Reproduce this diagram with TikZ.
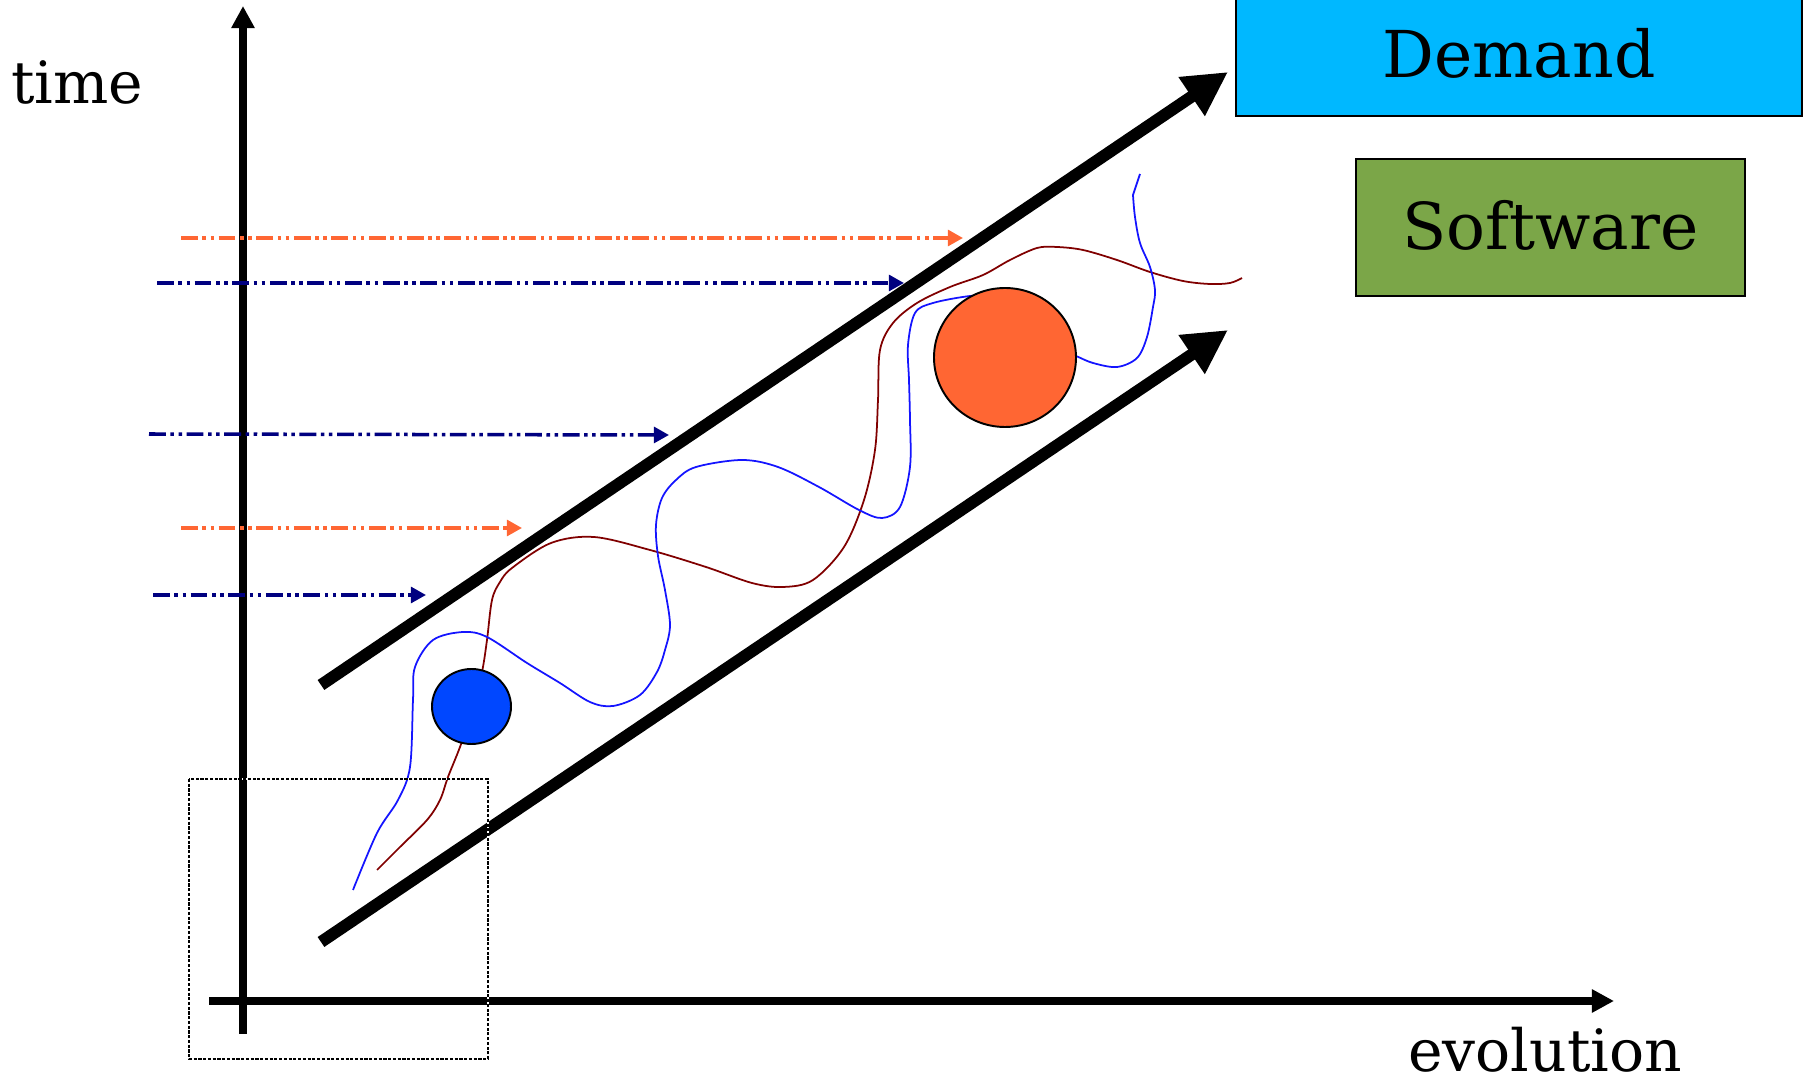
\documentclass[tikz,border=0pt]{standalone}
\usepackage{fontspec}
\setmainfont{DejaVu Serif}
\usetikzlibrary{arrows.meta,shapes.geometric}
\definecolor{cyanbox}{RGB}{0,184,255}
\definecolor{greenbox}{RGB}{123,166,72}
\definecolor{orng}{RGB}{255,102,51}
\definecolor{navyc}{RGB}{0,0,128}
\definecolor{ballblue}{RGB}{0,71,255}
\definecolor{curveblue}{RGB}{20,20,255}
\definecolor{curvered}{RGB}{128,0,0}
\begin{document}
\begin{tikzpicture}[x=0.1mm,y=-0.1mm,
  axisline/.style={line width=2.1pt,-{Triangle[length=6.3pt,width=6.3pt]}},
  diagline/.style={line width=3.4pt,-{Triangle[length=12.5pt,width=12.5pt]}},
  ddarrow/.style={line width=1pt,dash pattern=on 4.8pt off 1.3pt on 1pt off 1.3pt on 1pt off 1.3pt,
     -{Triangle[length=4.3pt,width=4.5pt]}},
  axislabel/.style={anchor=base,inner sep=0pt,font=\fontsize{16.6}{19}\selectfont},
  legendbox/.style={draw=black,line width=0.45pt,inner sep=0pt,text depth=0pt,font=\fontsize{18.4}{22}\selectfont},
  wiggle/.style={line width=0.5pt},
  ball/.style={circle,draw=black,line width=0.55pt,inner sep=0pt},
  dotbox/.style={line width=0.6pt,dash pattern=on 0.9pt off 0.45pt}
]
\useasboundingbox (0,0) rectangle (1810,1079);

% coordinates
\coordinate (yb) at (243,1034);
\coordinate (yt) at (243,6);
\coordinate (xl) at (209,1001);
\coordinate (xr) at (1614,1001);
\coordinate (d1s) at (321,685);
\coordinate (d1e) at (1228,72);
\coordinate (d2s) at (321,942);
\coordinate (d2e) at (1228,330);
\coordinate (a1s) at (181,238);  \coordinate (a1e) at (963,238);
\coordinate (a2s) at (157,283);  \coordinate (a2e) at (904,283);
\coordinate (a3s) at (149,434);  \coordinate (a3e) at (669,435);
\coordinate (a4s) at (181,528);  \coordinate (a4e) at (522,528);
\coordinate (a5s) at (153,595);  \coordinate (a5e) at (426,595);
\coordinate (r1) at (189,779);
\coordinate (r2) at (488,1059);

% axes
\draw[axisline] (yb) -- (yt);
\draw[axisline] (xl) -- (xr);

% dash-dot-dot arrows
\draw[ddarrow,orng] (a1s) -- (a1e);
\draw[ddarrow,navyc] (a2s) -- (a2e);
\draw[ddarrow,navyc] (a3s) -- (a3e);
\draw[ddarrow,orng] (a4s) -- (a4e);
\draw[ddarrow,navyc] (a5s) -- (a5e);

% diagonal arrows
\draw[diagline] (d1s) -- (d1e);
\draw[diagline] (d2s) -- (d2e);

% wiggly curves
\draw[wiggle,curvered] plot[smooth,tension=0.55] coordinates {
 (377,870) (400,847) (427,820) (440,800) (448,777) (460,747) (472,712) (482,672)
 (487,640) (492,600) (500,582) (512,568) (551,543) (594,537) (650,550) (706,567)
 (752,583) (783,587) (813,580) (844,547) (864,500) (875,450) (878,400) (880,350)
 (893,323) (917,303) (950,287) (983,275) (1010,260) (1037,248) (1057,247) (1083,250)
 (1117,260) (1150,272) (1183,281) (1210,284) (1230,283) (1242,278)};
\draw[wiggle,curveblue] plot[smooth,tension=0.55] coordinates {
 (353,890) (377,833) (398,800) (410,767) (413,700) (415,667) (433,640) (463,632)
 (487,637) (527,663) (560,683) (590,702) (613,706) (640,695) (657,672) (665,650)
 (670,625) (665,590) (658,556) (656,525) (662,498) (676,480) (696,467) (742,460)
 (778,467) (819,487) (859,510) (882,518) (900,507) (910,467) (910,420) (909,380)
 (908,345) (915,313) (933,303) (970,296) (995,296)};
\draw[wiggle,curveblue] plot[smooth,tension=0.55] coordinates {
 (1060,350) (1076,356) (1093,363) (1117,367) (1137,358) (1147,337) (1153,307)
 (1155,290) (1150,267) (1140,243) (1135,217) (1133,195)} -- (1140,174);

% balls
\node[ball,fill=ballblue,ellipse,minimum width=7.9mm,minimum height=7.5mm] (blueball) at (471.5,706.5) {};
\node[ball,fill=orng,ellipse,minimum width=14.2mm,minimum height=13.9mm] (orangeball) at (1005,357.5) {};

% dotted box
\draw[dotbox,white,dash pattern=] (r1) rectangle (r2);
\draw[dotbox] (r1) rectangle (r2);

% legend boxes
\node[legendbox,fill=cyanbox,minimum width=56.6mm,minimum height=11.8mm,text height=11.4pt] (demand) at (1519,57) {Demand};
\node[legendbox,fill=greenbox,minimum width=38.9mm,minimum height=13.7mm,text height=12.8pt] (software) at (1550.5,227.5) {Software};

% axis labels
\node[axislabel] (time) at (77,104) {time};
\node[axislabel] (evolution) at (1545,1071) {evolution};
\end{tikzpicture}
\end{document}
